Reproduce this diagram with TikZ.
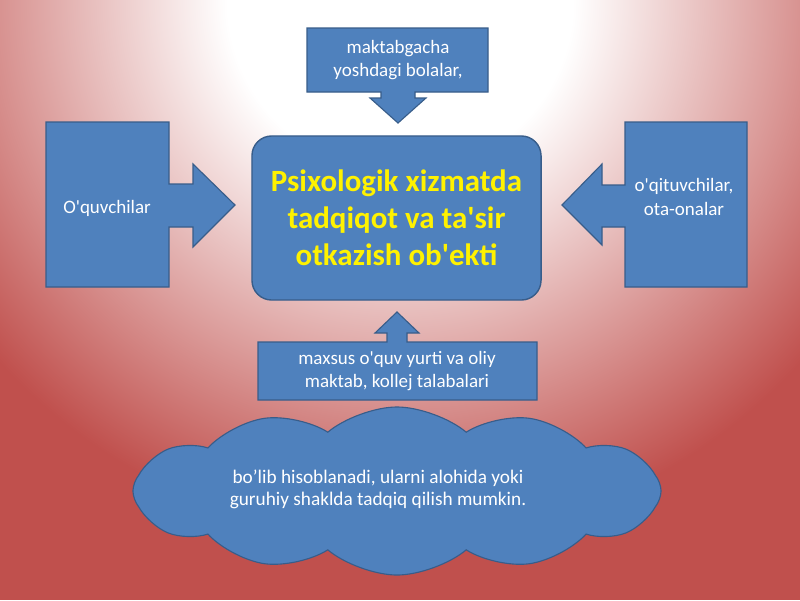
\documentclass[tikz,border=0pt]{standalone}
\usepackage{fontspec}
\setmainfont{Carlito}[Ligatures=TeXOff]
\usepackage{tikz}
\usetikzlibrary{shapes.symbols}
\definecolor{bgred}{RGB}{192,80,77}
\definecolor{boxblue}{RGB}{79,129,189}
\definecolor{boxedge}{RGB}{56,93,138}
\pgfdeclareradialshading{bgglow}{\pgfpoint{0bp}{0bp}}{color(0bp)=(white); color(8bp)=(white); color(25bp)=(bgred); color(50bp)=(bgred)}
\tikzset{
  callout/.style={fill=boxblue, draw=boxedge, line width=0.8pt, line join=miter},
  calltext/.style={text=white, align=center, inner sep=0pt, font=\fontsize{13.5}{17}\selectfont},
  maintext/.style={rectangle, rounded corners=14pt, fill=boxblue, draw=boxedge, line width=1pt, minimum width=7.225cm, minimum height=4.1cm, text=yellow, align=center, font=\bfseries\fontsize{22}{26.3}\selectfont},
  puff/.style={cloud, cloud puffs=12, cloud puff arc=80, cloud ignores aspect, fill=boxblue, draw=boxedge, line width=0.8pt, minimum width=13.2cm, minimum height=4.2cm} % cloud at the bottom
}

\begin{document}
\begin{tikzpicture}[x=0.025cm, y=-0.025cm]
  \useasboundingbox (0,0) rectangle (800,600);
  % Background glow
  \begin{scope}
    \clip (0,0) rectangle (800,600);
    \fill[bgred] (0,0) rectangle (800,600);
    \shade[shading=bgglow] (400,0) circle (13.5cm);
  \end{scope}

  % Central object
  \node[maintext] (core) at (396.5,218) {Psixologik xizmatda\\tadqiqot va ta'sir\\otkazish ob'ekti};

  % Top callout
  \path[callout] (307,28) -- (488,28) -- (488,92) -- (415,92) -- (415,98) -- (426,98) -- (398,123)
    -- (370,98) -- (381,98) -- (381,92) -- (307,92) -- cycle;
  \node[calltext] (kids) at (398,60) {maktabgacha\\yoshdagi bolalar,};

  % Left callout
  \path[callout] (46,122) -- (169,122) -- (169,184) -- (193,184) -- (193,164) -- (235,205)
    -- (193,247) -- (193,227) -- (169,227) -- (169,287) -- (46,287) -- cycle;
  \node[calltext] (pupils) at (107,208) {O'quvchilar};

  % Right callout
  \path[callout] (747,122) -- (625,122) -- (625,185) -- (602,185) -- (602,164) -- (562,205)
    -- (602,245) -- (602,227) -- (625,227) -- (625,287) -- (747,287) -- cycle;
  \node[calltext] (teachers) at (684,197) {o'qituvchilar,\\ota-onalar};

  % Bottom callout
  \path[callout] (258,342) -- (387,342) -- (387,333) -- (375,333) -- (397,312) -- (419,333)
    -- (407,333) -- (407,342) -- (537,342) -- (537,400) -- (258,400) -- cycle;
  \node[calltext] (students) at (397,371) {maxsus o'quv yurti va oliy\\maktab, kollej talabalari};

  % Cloud note
  \node[puff] (cloudbox) at (397,491) {};
  \node[calltext, font=\fontsize{13.7}{15.6}\selectfont] (note) at (378,489) {bo’lib hisoblanadi, ularni alohida yoki\\guruhiy shaklda tadqiq qilish mumkin.};
\end{tikzpicture}
\end{document}
